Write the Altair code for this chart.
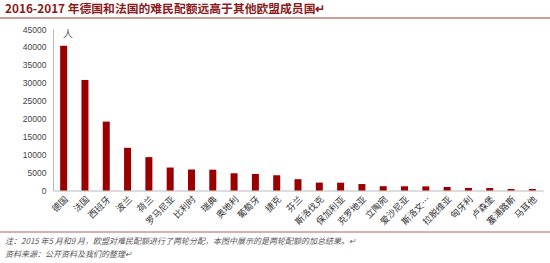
import altair as alt
import pandas as pd

countries = ["德国", "法国", "西班牙", "波兰", "荷兰", "罗马尼亚", "比利时", "瑞典",
             "奥地利", "葡萄牙", "捷克", "芬兰", "斯洛伐克", "保加利亚", "克罗地亚",
             "立陶宛", "爱沙尼亚", "斯洛文…", "拉脱维亚", "匈牙利", "卢森堡", "塞浦路斯", "马耳他"]
quotas = [40300, 30800, 19200, 11900, 9300, 6400, 5850, 5800,
          4800, 4600, 4250, 3150, 2200, 2180, 1800,
          1200, 1180, 1150, 980, 720, 700, 430, 420]
y_ticks = [0, 5000, 10000, 15000, 20000, 25000, 30000, 35000, 40000, 45000]

title_text = "2016-2017 年德国和法国的难民配额远高于其他欧盟成员国↵"
unit_text = "人"
note_text = "注：2015 年5 月和9 月，欧盟对难民配额进行了两轮分配，本图中展示的是两轮配额的加总结果。↵"
source_text = "资料来源：公开资料及我们的整理↵"

df = pd.DataFrame({"country": countries, "quota": quotas})

CJK = "Noto Sans CJK SC"
RED = "#9B0000"

bars = alt.Chart(df).mark_bar(color=RED, size=7).encode(
    x=alt.X("country:N", sort=countries, title=None,
            axis=alt.Axis(labelAngle=-45, labelFont=CJK, labelFontSize=9,
                          labelColor="#333", ticks=False, domainColor="#bbb",
                          labelPadding=4, labelLimit=80)),
    y=alt.Y("quota:Q", title=None, scale=alt.Scale(domain=[0, 45000], nice=False),
            axis=alt.Axis(values=y_ticks, format="d", grid=False, ticks=False, domainColor="#bbb",
                          labelFont="Liberation Sans", labelFontSize=8.5,
                          labelColor="#444", labelPadding=7)),
)

def txt(s, x, y, size, color, weight="normal", style="normal", font=CJK):
    return alt.Chart(pd.DataFrame({"t": [s]})).mark_text(
        align="left", baseline="middle", fontSize=size, color=color,
        fontWeight=weight, fontStyle=style, font=font
    ).encode(x=alt.value(x), y=alt.value(y), text="t:N")

title = txt(title_text, -48, -20, 11.8, "#8B1A1A", weight="bold")
unit = txt(unit_text, 10, 6, 10, "#555")
note = txt(note_text, -48, 213, 8, "#555", style="italic")
source = txt(source_text, -48, 226, 8, "#555", style="italic")

top_line = alt.Chart(pd.DataFrame({"a": [0]})).mark_rule(color="#A23B3B", strokeWidth=1).encode(
    x=alt.value(-53), x2=alt.value(497), y=alt.value(-11))
bottom_line = alt.Chart(pd.DataFrame({"a": [0]})).mark_rule(color="#B06060", strokeWidth=1).encode(
    x=alt.value(-53), x2=alt.value(497), y=alt.value(203))

chart = alt.layer(bars, title, unit, note, source, top_line, bottom_line).properties(
    width=490, height=161.5,
    padding={"left": 53, "top": 29, "right": 7, "bottom": 72},
    autosize=alt.AutoSizeParams(type="none"),
    background="white",
).configure_view(stroke=None)

chart.save("out.html", embed_options={"renderer": "svg", "actions": False})
